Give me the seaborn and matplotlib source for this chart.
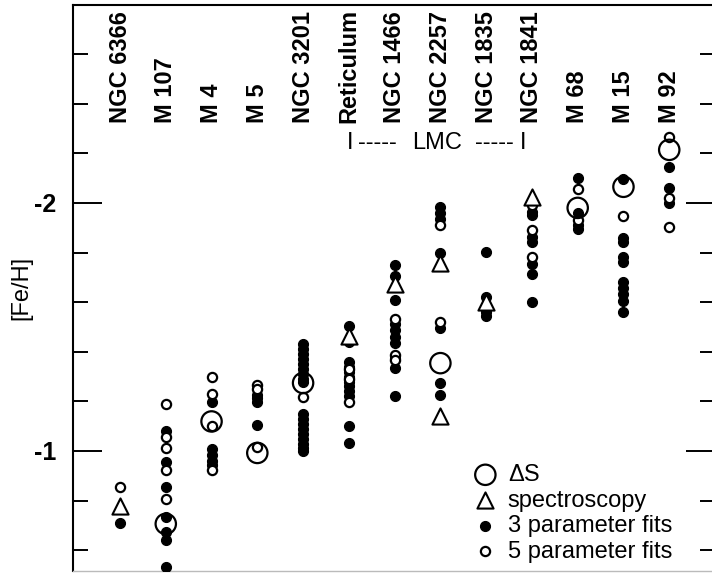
import matplotlib
matplotlib.use("Agg")
import matplotlib.pyplot as plt
from matplotlib.ticker import FixedLocator, FixedFormatter
import seaborn as sns
import pandas as pd

# ---------------- data ----------------
clusters = ["NGC 6366", "M 107", "M 4", "M 5", "NGC 3201", "Reticulum",
            "NGC 1466", "NGC 2257", "NGC 1835", "NGC 1841", "M 68", "M 15", "M 92"]

fit3 = {  # 3 parameter fits (filled circles)
    "NGC 6366": [-0.71],
    "M 107": [-1.082, -0.956, -0.854, -0.735, -0.675, -0.641, -0.533],
    "M 4": [-1.199, -1.008, -0.984, -0.960, -0.944],
    "M 5": [-1.226, -1.212, -1.198, -1.105],
    "NGC 3201": [-1.43, -1.41, -1.39, -1.37, -1.35, -1.33, -1.31, -1.29, -1.28,
                 -1.15, -1.13, -1.11, -1.09, -1.07, -1.05, -1.03, -1.01, -1.00],
    "Reticulum": [-1.502, -1.44, -1.36, -1.34, -1.32, -1.30, -1.28, -1.26, -1.24,
                  -1.22, -1.102, -1.031],
    "NGC 1466": [-1.75, -1.706, -1.609, -1.512, -1.488, -1.46, -1.435, -1.375,
                 -1.335, -1.222],
    "NGC 2257": [-1.984, -1.96, -1.935, -1.80, -1.495, -1.274, -1.224],
    "NGC 1835": [-1.802, -1.621, -1.56, -1.544],
    "NGC 1841": [-1.964, -1.952, -1.863, -1.843, -1.754, -1.714, -1.60],
    "M 68": [-2.10, -1.96, -1.911, -1.895],
    "M 15": [-2.097, -1.859, -1.843, -1.782, -1.762, -1.681, -1.657, -1.633,
             -1.605, -1.56],
    "M 92": [-2.146, -2.06, -2.00],
}

fit5 = {  # 5 parameter fits (open circles)
    "NGC 6366": [-0.855],
    "M 107": [-1.19, -1.058, -1.01, -0.923, -0.806],
    "M 4": [-1.30, -1.23, -1.10, -0.925],
    "M 5": [-1.266, -1.25, -1.016],
    "NGC 3201": [-1.218],
    "Reticulum": [-1.33, -1.29, -1.199],
    "NGC 1466": [-1.532, -1.387, -1.367],
    "NGC 2257": [-1.911, -1.521],
    "NGC 1835": [-1.585],
    "NGC 1841": [-1.992, -1.891, -1.78],
    "M 68": [-2.056, -1.93],
    "M 15": [-1.948],
    "M 92": [-2.267, -2.02, -1.904],
}

spectroscopy = {
    "NGC 6366": [-0.78],
    "Reticulum": [-1.464],
    "NGC 1466": [-1.673],
    "NGC 2257": [-1.758, -1.141],
    "NGC 1835": [-1.60],
    "NGC 1841": [-2.025],
}

delta_s = {
    "M 107": [-0.706],
    "M 4": [-1.119],
    "M 5": [-0.992],
    "NGC 3201": [-1.274],
    "NGC 2257": [-1.354],
    "M 68": [-1.98],
    "M 15": [-2.065],
    "M 92": [-2.214],
}

legend_labels = ["\u0394S", "spectroscopy", "3 parameter fits", "5 parameter fits"]
ytick_major = [-2, -1]
ytick_major_labels = ["-2", "-1"]
ytick_minor = [-2.6, -2.4, -2.2, -1.8, -1.6, -1.4, -1.2, -0.8, -0.6]


def to_frame(d):
    rows = [(c, clusters.index(c), v) for c, vals in d.items() for v in vals]
    return pd.DataFrame(rows, columns=["cluster", "pos", "feh"])


# ---------------- style ----------------
sns.set_style("white")
plt.rcParams["font.family"] = ["Liberation Sans", "DejaVu Sans"]
plt.rcParams["axes.unicode_minus"] = False
for key in ["text.color", "axes.labelcolor", "xtick.color", "ytick.color",
            "axes.edgecolor"]:
    plt.rcParams[key] = "black"

fig = plt.figure(figsize=(7.12, 5.73), dpi=100)
ax = fig.add_axes([73 / 712, 1 - 571 / 573, (715 - 73) / 712, (571 - 5) / 573])

sns.scatterplot(data=to_frame(fit3), x="pos", y="feh", ax=ax, marker="o",
                s=52, color="black", edgecolor="black", linewidth=0.8,
                zorder=3, label=legend_labels[2], legend=False)
sns.scatterplot(data=to_frame(fit5), x="pos", y="feh", ax=ax, marker="o",
                s=44, color="white", edgecolor="black", linewidth=1.6,
                zorder=4, label=legend_labels[3], legend=False)
sns.scatterplot(data=to_frame(spectroscopy), x="pos", y="feh", ax=ax, marker="^",
                s=135, facecolor="white", edgecolor="black", linewidth=1.5,
                zorder=5, label=legend_labels[1], legend=False)
sns.scatterplot(data=to_frame(delta_s), x="pos", y="feh", ax=ax, marker="o",
                s=215, facecolor="none", edgecolor="black", linewidth=1.6,
                zorder=6, label=legend_labels[0], legend=False)

# axes limits (y inverted: metal-poor at top)
ax.set_xlim(-1.027, 13.0)
ax.set_ylim(-0.516, -2.798)

# cluster names
for i, name in enumerate(clusters):
    ax.text(i, -2.323, name, rotation=90, ha="center", va="bottom",
            fontsize=17, fontweight="bold")

# LMC bracket
lmc_y = -2.242
ax.text(5.02, lmc_y, "I", ha="center", va="center", fontsize=17)
ax.text(5.62, lmc_y, "-----", ha="center", va="center", fontsize=17)
ax.text(6.93, lmc_y, "LMC", ha="center", va="center", fontsize=17)
ax.text(8.18, lmc_y, "-----", ha="center", va="center", fontsize=17)
ax.text(8.80, lmc_y, "I", ha="center", va="center", fontsize=17)

# ticks
ax.yaxis.set_major_locator(FixedLocator(ytick_major))
ax.yaxis.set_major_formatter(FixedFormatter(ytick_major_labels))
ax.yaxis.set_minor_locator(FixedLocator(ytick_minor))
ax.tick_params(axis="y", which="both", direction="in", left=True, right=True,
               width=1.4, color="black")
ax.tick_params(axis="y", which="major", length=21, pad=12, labelsize=18)
ax.tick_params(axis="y", which="minor", length=10.5)
for lab in ax.get_yticklabels():
    lab.set_fontweight("bold")
ax.set_xticks([])
ax.set_xlabel("")
ax.set_ylabel("[Fe/H]", fontsize=17, labelpad=1)

for side in ["left", "top", "right"]:
    ax.spines[side].set_color("black")
    ax.spines[side].set_linewidth(1.5)
ax.spines["bottom"].set_color("#bbbbbb")
ax.spines["bottom"].set_linewidth(1.0)

# legend
h, l = ax.get_legend_handles_labels()
hd = dict(zip(l, h))
ax.legend([hd[k] for k in legend_labels], legend_labels, loc="upper left",
          bbox_to_anchor=(470 / 712, 1 - 464 / 573), bbox_transform=fig.transFigure,
          frameon=False, fontsize=17, handletextpad=0.3, labelspacing=0.15,
          borderpad=0, borderaxespad=0, handlelength=1.3)

fig.savefig("out.png", dpi=100)
